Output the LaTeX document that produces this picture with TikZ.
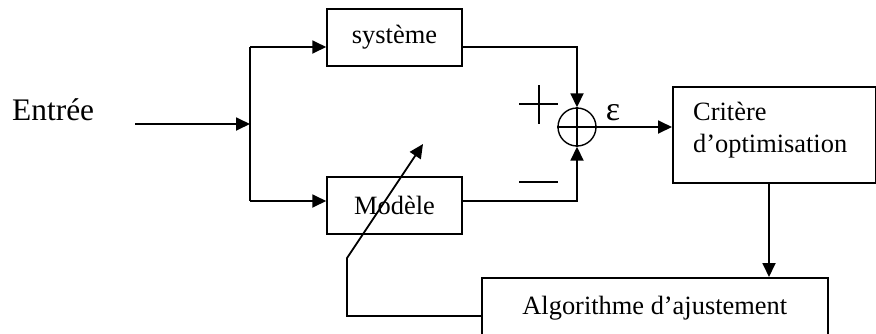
\documentclass[tikz,border=0pt]{standalone}
\usepackage{fontspec}
\setmainfont{Liberation Serif}
\usetikzlibrary{arrows.meta}
\begin{document}
\begin{tikzpicture}[x=1pt,y=-1pt,
  blk/.style={draw, line width=1.5pt, inner sep=0pt, font=\fontsize{26.4}{32}\selectfont},
  txt/.style={inner sep=0pt, font=\fontsize{26.4}{32}\selectfont},
  arr/.style={line width=1.8pt, -{Triangle[length=14pt,width=13pt]}},
  ln/.style={line width=1.8pt},
  thin/.style={line width=1.4pt}]
\useasboundingbox (0,0) rectangle (876,333);
% input
\node[inner sep=0pt, anchor=base west, font=\fontsize{31.4}{36}\selectfont] (in) at (12,120) {Entrée};
\coordinate (s) at (135,124);
\coordinate (br) at (250,124);
\coordinate (bt) at (250,47);
\coordinate (bb) at (250,201);
% blocks
\node[blk, minimum width=135pt, minimum height=57pt] (sys) at (394.5,37.5) {système};
\node[blk, minimum width=135pt, minimum height=57pt] (mod) at (394.5,205.5) {Modèle};
\node[draw, circle, thin, minimum size=38pt, inner sep=0pt] (sum) at (577,127) {};
\draw[thin] (sum.north) -- (sum.south) (sum.west) -- (sum.east);
\node[blk, minimum width=203pt, minimum height=96pt, anchor=north west] (crit) at (672,86) {};
\node[txt, align=left, anchor=north west] (crittxt) at (693,102) {Critère\\d’optimisation};
\node[blk, minimum width=346pt, minimum height=60pt, anchor=north west] (alg) at (481,277) {Algorithme d’ajustement};
% signs
\node[inner sep=0pt, font=\fontsize{34}{38}\selectfont] (eps) at (613,113) {ε};
\coordinate (p1) at (519,104); \coordinate (p2) at (558,104);
\coordinate (p3) at (539,85); \coordinate (p4) at (539,124);
\draw[thin] (p1) -- (p2) (p3) -- (p4);
\coordinate (m1) at (519,182); \coordinate (m2) at (558,182);
\draw[thin] (m1) -- (m2);
% connectors
\draw[arr] (s) -- (br);
\draw[ln] (bt) -- (bb);
\draw[arr] (bt) -- (bt -| sys.west);
\draw[arr] (bb) -- (bb -| mod.west);
\draw[arr] (sys.east |- bt) -| (sum.north);
\draw[arr] (mod.east |- bb) -| (sum.south);
\draw[arr] (sum.east) -- (sum.east -| crit.west);
\coordinate (xc) at (769,182);
\draw[arr] (crit.south -| xc) -- (alg.north -| xc);
\coordinate (fb1) at (347,316);
\coordinate (fb2) at (347,258);
\coordinate (fb3) at (423,144);
\draw[arr] (alg.west |- fb1) -- (fb1) -- (fb2) -- (fb3);
\end{tikzpicture}
\end{document}
